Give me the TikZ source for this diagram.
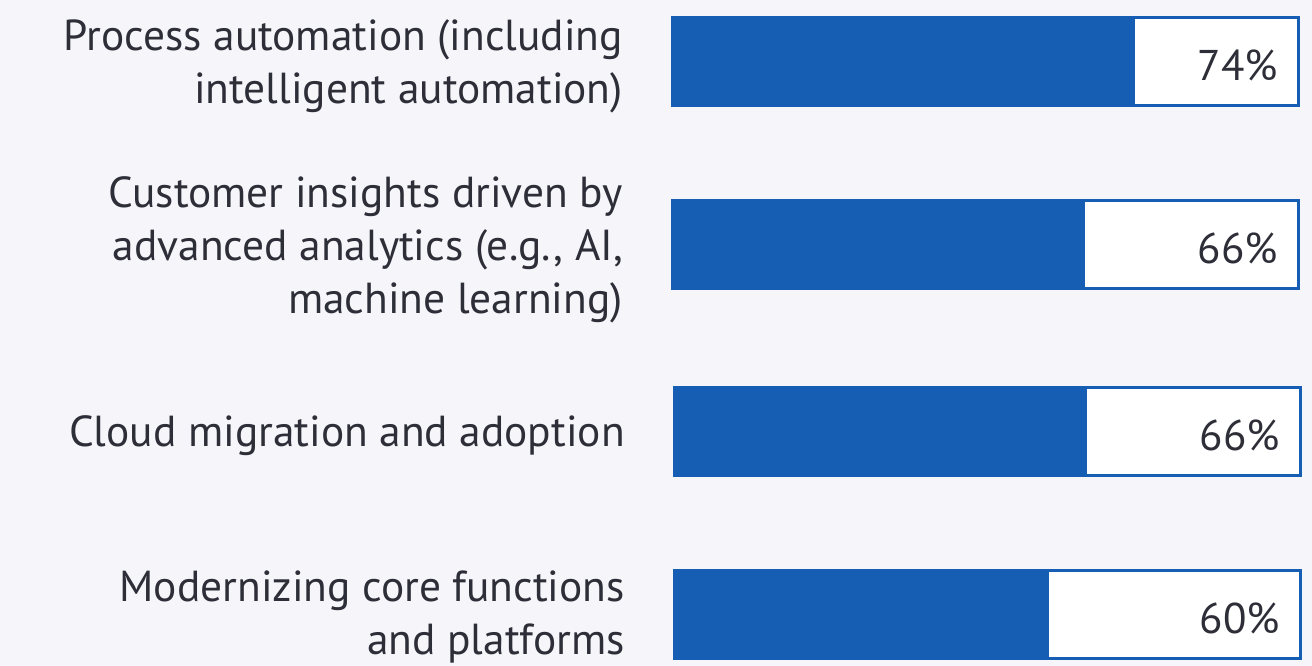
\documentclass[tikz,border=0pt]{standalone}
\usepackage{fontspec}
\setmainfont{PT Sans}
\usetikzlibrary{positioning}
\definecolor{bgcol}{HTML}{F5F5FA}
\definecolor{barblue}{HTML}{165DB4}
\definecolor{txtgrey}{HTML}{2E2E38}
\tikzset{
  barframe/.style={draw=barblue, line width=2pt, fill=white, minimum width=625pt, minimum height=87pt, inner sep=0pt, anchor=north west},
  catlabel/.style={align=right, text=txtgrey, font=\fontsize{43.4}{53}\selectfont, inner sep=0pt},
  pctlabel/.style={anchor=east, text=txtgrey, font=\fontsize{43}{46}\selectfont, inner sep=0pt}
}
\begin{document}
\begin{tikzpicture}[x=1pt,y=-1pt]
	\fill[bgcol] (0,0) rectangle (1312,666);
	\useasboundingbox (0,0) rectangle (1312,666);
	
	\foreach \name/\xl/\yt/\val/\dy/\txt in {
		proc/672/17/74/5/{Process automation (including\\intelligent automation)},
		cust/672/200/66/5/{Customer insights driven by\\advanced analytics (e.g., AI,\\machine learning)},
		cloud/674/387/66/4/{Cloud migration and adoption},
		core/674/570/60/2/{Modernizing core functions\\and platforms}}
	{
		\node[barframe] (\name) at (\xl,\yt) {};
		\fill[barblue] (\name.north west) rectangle (\xl-1+6.27*\val,\yt+87);
		\draw[barblue, line width=2pt] (\name.north west) rectangle (\name.south east);
		\node[catlabel, left=49pt of \name.west, yshift=-\dy pt] (\name-lbl) {\txt};
		\node[pctlabel] (\name-pct) at ([xshift=-21pt,yshift=-4pt]\name.east) {\val\%};
	}
\end{tikzpicture}
\end{document}
